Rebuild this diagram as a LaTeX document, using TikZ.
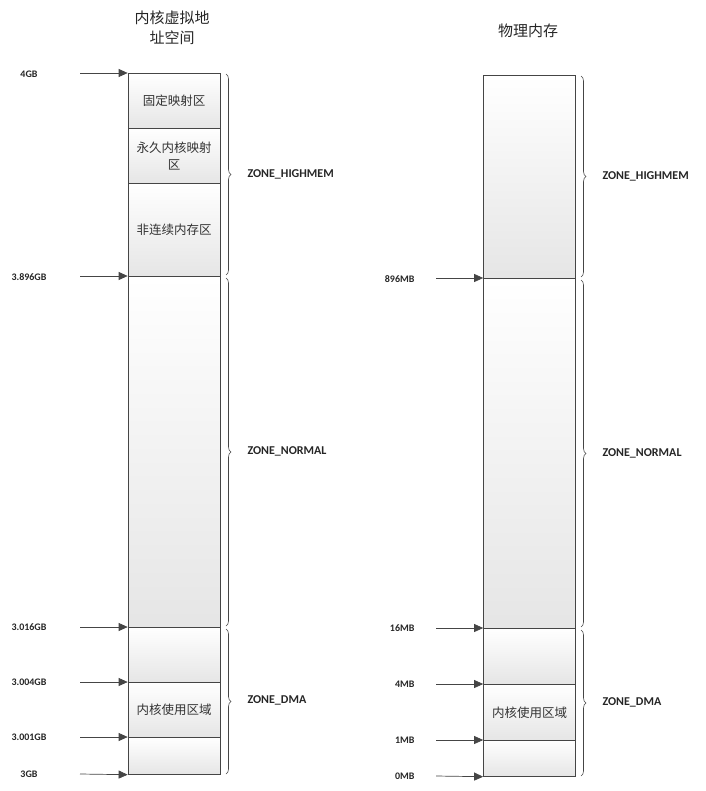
\documentclass[tikz,border=0pt]{standalone}
\usepackage{fontspec}
\setmainfont{Carlito}
\newfontfamily\cjk{Noto Sans CJK SC}
\usetikzlibrary{arrows.meta,decorations.pathreplacing}
\definecolor{linegray}{HTML}{454545}
\tikzset{
  cell/.style={draw=linegray, line width=0.7pt, top color=white, bottom color=black!10, anchor=north,
    minimum width=92pt, inner sep=0pt, text width=84pt, align=center,
    font=\cjk\fontsize{12.5}{17}\selectfont, text=black!80},
  title/.style={align=center, font=\cjk\fontsize{15}{20}\selectfont, text=black!85},
  addr/.style={font=\bfseries\fontsize{10}{12}\selectfont, text=black!85},
  zone/.style={anchor=west, font=\bfseries\fontsize{12}{14}\selectfont, text=black!85},
  ptr/.style={draw=linegray, line width=0.7pt, -{Triangle[length=9pt,width=8pt,fill=linegray]}},
  zonebrace/.style={draw=linegray, line width=0.6pt, decorate, decoration={brace,amplitude=5pt}}
}
\begin{document}
\begin{tikzpicture}[x=1pt,y=-1pt]
        \useasboundingbox (0,0) rectangle (705,791);
        % kernel virtual address space
        \node[title] (vtitle) at (172,28) {内核虚拟地\\址空间};
        \node[cell, minimum height=55pt] (vfix) at (174,73) {固定映射区};
        \node[cell, minimum height=55pt] (vperm) at (174,128) {永久内核映射\\区};
        \node[cell, minimum height=93pt] (vmalloc) at (174,183) {非连续内存区};
        \node[cell, minimum height=351pt] (vnormal) at (174,276) {};
        \node[cell, minimum height=55pt] (vdma) at (174,627) {};
        \node[cell, minimum height=55pt] (vkern) at (174,682) {内核使用区域};
        \node[cell, minimum height=37pt] (vlow) at (174,737) {};

        \node[addr] (v4gb) at (29,74) {4GB};
        \node[addr] (v3896) at (29,277) {3.896GB};
        \node[addr] (v3016) at (29,627) {3.016GB};
        \node[addr] (v3004) at (29,682) {3.004GB};
        \node[addr] (v3001) at (29,737) {3.001GB};
        \node[addr] (v3gb) at (29,774) {3GB};

        \coordinate (p4gb) at (80,73);
        \coordinate (p3896) at (80,276);
        \coordinate (p3016) at (80,627);
        \coordinate (p3004) at (80,682);
        \coordinate (p3001) at (80,737);
        \coordinate (p3gb) at (80,774);
        \draw[ptr] (p4gb) -- (vfix.north west);
        \draw[ptr] (p3896) -- (vnormal.north west);
        \draw[ptr] (p3016) -- (vdma.north west);
        \draw[ptr] (p3004) -- (vkern.north west);
        \draw[ptr] (p3001) -- (vlow.north west);
        \draw[ptr] (p3gb) -- (vlow.south west);

        \coordinate (vb1) at (226,74);
        \coordinate (vb2) at (226,275);
        \coordinate (vb3) at (226,278);
        \coordinate (vb4) at (226,626);
        \coordinate (vb5) at (226,629);
        \coordinate (vb6) at (226,774);
        \draw[zonebrace] (vb1) -- (vb2);
        \draw[zonebrace] (vb3) -- (vb4);
        \draw[zonebrace] (vb5) -- (vb6);
        \node[zone] (vzh) at (244,174) {ZONE\_HIGHMEM};
        \node[zone] (vzn) at (244,451) {ZONE\_NORMAL};
        \node[zone] (vzd) at (244,700) {ZONE\_DMA};

        % physical memory
        \node[title] (ptitle) at (528,31) {物理内存};
        \node[cell, minimum height=203pt] (phigh) at (529.5,75) {};
        \node[cell, minimum height=350pt] (pnormal) at (529.5,278) {};
        \node[cell, minimum height=56pt] (pdma) at (529.5,628) {};
        \node[cell, minimum height=56pt] (pkern) at (529.5,684) {内核使用区域};
        \node[cell, minimum height=36pt] (plow) at (529.5,740) {};

        \node[addr, anchor=east] (p896) at (418,279) {896MB};
        \node[addr, anchor=east] (p16) at (418,628) {16MB};
        \node[addr, anchor=east] (p4mb) at (418,684) {4MB};
        \node[addr, anchor=east] (p1mb) at (418,740) {1MB};
        \node[addr, anchor=east] (p0mb) at (418,776) {0MB};

        \coordinate (q896) at (436,278);
        \coordinate (q16) at (436,628);
        \coordinate (q4mb) at (436,684);
        \coordinate (q1mb) at (436,740);
        \coordinate (q0mb) at (436,776);
        \draw[ptr] (q896) -- (pnormal.north west);
        \draw[ptr] (q16) -- (pdma.north west);
        \draw[ptr] (q4mb) -- (pkern.north west);
        \draw[ptr] (q1mb) -- (plow.north west);
        \draw[ptr] (q0mb) -- (plow.south west);

        \coordinate (pb1) at (581,76);
        \coordinate (pb2) at (581,277);
        \coordinate (pb3) at (581,280);
        \coordinate (pb4) at (581,627);
        \coordinate (pb5) at (581,630);
        \coordinate (pb6) at (581,776);
        \draw[zonebrace] (pb1) -- (pb2);
        \draw[zonebrace] (pb3) -- (pb4);
        \draw[zonebrace] (pb5) -- (pb6);
        \node[zone] (pzh) at (599,176) {ZONE\_HIGHMEM};
        \node[zone] (pzn) at (599,453) {ZONE\_NORMAL};
        \node[zone] (pzd) at (599,702) {ZONE\_DMA};
\end{tikzpicture}
\end{document}
